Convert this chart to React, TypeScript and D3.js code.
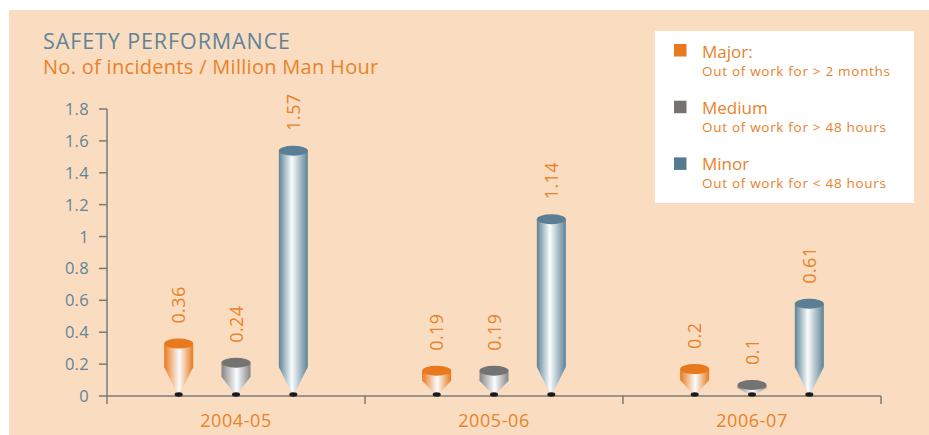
import React from "react";
import * as d3 from "d3";

const categories = ["2004-05", "2005-06", "2006-07"];
const seriesNames = ["Major:", "Medium", "Minor"];
const seriesNotes = ["Out of work for > 2 months", "Out of work for > 48 hours", "Out of work for < 48 hours"];
const major = [0.36, 0.19, 0.2];
const medium = [0.24, 0.19, 0.1];
const minor = [1.57, 1.14, 0.61];
const yTicks = [0, 0.2, 0.4, 0.6, 0.8, 1, 1.2, 1.4, 1.6, 1.8];

const seriesValues = [major, medium, minor];
const topColors = ["#E8791C", "#737373", "#5A7E93"];
const edgeColors = ["#E8791C", "#858585", "#5D8296"];
const legendColors = ["#E8791C", "#767270", "#547A8F"];

const ORANGE = "#E8822A";
const BLUE = "#5F8497";
const FONT = "'Open Sans', sans-serif";

export default function App() {
  const W = 929, H = 435;
  const y = d3.scaleLinear().domain([0, 1.8]).range([396, 109]);
  const x = d3.scaleBand().domain(categories).range([107, 881]).padding(0);
  const offsets = d3.scaleBand().domain(seriesNames).range([-86, 86]).padding(0);
  const bw = 29;
  const ry = 5;
  const y0 = y(0);

  return (
    <svg width={W} height={H} style={{ position: "absolute", left: 0, top: 0 }}>
      <defs>
        {seriesNames.map((s, i) => (
          <linearGradient key={s} id={`g${i}`} x1="0" x2="1" y1="0" y2="0">
            <stop offset="0%" stopColor={edgeColors[i]} />
            <stop offset={i === 2 ? "45%" : "52%"} stopColor="#FBFCFD" />
            <stop offset="100%" stopColor={edgeColors[i]} />
          </linearGradient>
        ))}
      </defs>
      <rect x={9} y={10} width={W - 9} height={H - 10} fill="#FADDC0" />
      <text x={43} y={49} fontFamily={FONT} fontSize={21.5} letterSpacing={0.9} fill={BLUE}>SAFETY PERFORMANCE</text>
      <text x={43} y={74} fontFamily={FONT} fontSize={20} letterSpacing={0.3} fill={ORANGE}>No. of incidents / Million Man Hour</text>

      {/* y axis */}
      <line x1={107} x2={107} y1={y(1.8)} y2={404} stroke="#7A7A7A" strokeWidth={1.5} />
      {yTicks.map((t) => (
        <g key={t}>
          <line x1={99} x2={107} y1={y(t)} y2={y(t)} stroke="#7A7A7A" strokeWidth={1.5} />
          <text x={89} y={y(t) + 6} textAnchor="end" fontFamily={FONT} fontSize={16.5} letterSpacing={0.3} fill={BLUE}>{String(t)}</text>
        </g>
      ))}
      {/* x axis */}
      <line x1={107} x2={881} y1={y0} y2={y0} stroke="#7A7A7A" strokeWidth={1.5} />
      {categories.map((c) => (
        <line key={c} x1={(x(c) as number) + x.bandwidth()} x2={(x(c) as number) + x.bandwidth()} y1={y0} y2={404} stroke="#7A7A7A" strokeWidth={1.5} />
      ))}
      {categories.map((c) => (
        <text key={c} x={(x(c) as number) + x.bandwidth() / 2} y={427} textAnchor="middle" fontFamily={FONT} fontSize={18} letterSpacing={0.6} fill={ORANGE}>{c}</text>
      ))}

      {categories.map((c, ci) =>
        seriesNames.map((s, si) => {
          const v = seriesValues[si][ci];
          const cx = (x(c) as number) + x.bandwidth() / 2 + (offsets(s) as number) + offsets.bandwidth() / 2;
          const h = y0 - y(v);
          const coneH = Math.min(h / 2, 29);
          const yTop = y(v) + ry;
          const yCone = y0 - coneH;
          const l = cx - bw / 2, r = cx + bw / 2;
          const path = `M${l},${yTop} L${l},${yCone} L${cx},${y0} L${r},${yCone} L${r},${yTop} Z`;
          return (
            <g key={c + s}>
              <path d={path} fill={`url(#g${si})`} />
              <ellipse cx={cx} cy={yTop} rx={bw / 2} ry={ry} fill={topColors[si]} />
              <ellipse cx={cx} cy={y0 - 1.5} rx={4} ry={2.2} fill="#1A1A1A" />
              <text
                transform={`translate(${cx + 6.5},${y(v) - 15}) rotate(-90)`}
                fontFamily={FONT}
                fontSize={18}
                letterSpacing={0.4}
                fill={ORANGE}
              >
                {String(v)}
              </text>
            </g>
          );
        })
      )}

      {/* legend */}
      <rect x={655} y={31} width={259} height={172} fill="#FFFFFF" />
      {seriesNames.map((s, i) => (
        <g key={s}>
          <rect x={674} y={44 + i * 56.7} width={12.5} height={12.5} fill={legendColors[i]} />
          <text x={702} y={57.5 + i * 56} fontFamily={FONT} fontSize={17} fill={ORANGE}>{s}</text>
          <text x={702} y={76 + i * 56} fontFamily={FONT} fontSize={13.5} letterSpacing={0.7} fill={ORANGE}>{seriesNotes[i]}</text>
        </g>
      ))}
    </svg>
  );
}
